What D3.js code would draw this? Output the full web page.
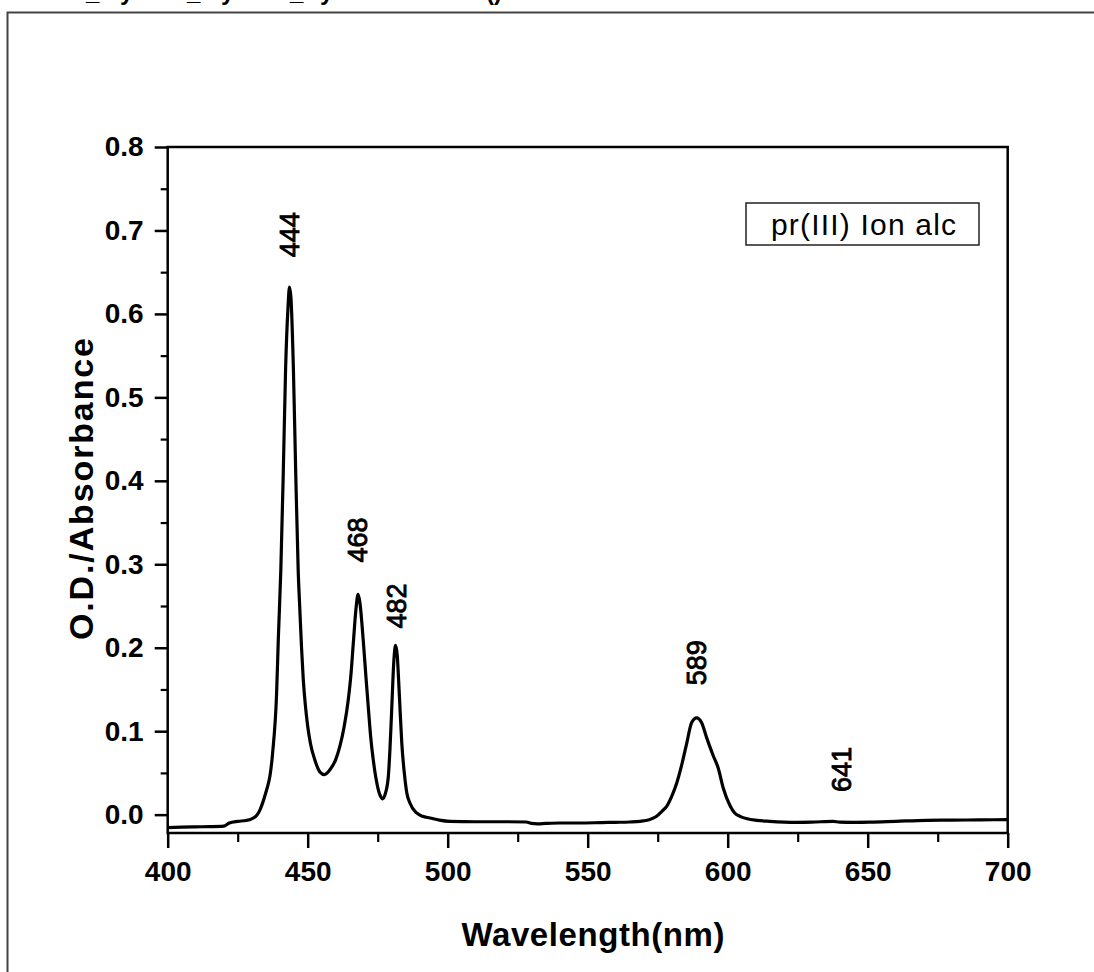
<!DOCTYPE html>
<html>
<head>
<meta charset="utf-8">
<script src="https://cdn.jsdelivr.net/npm/d3@7"></script>
<style>
body { margin: 0; background: #fff; }
svg { display: block; font-family: "Liberation Sans", Arial, sans-serif; }
</style>
</head>
<body>
<script>
var w = 1094;
var h = 972;

// spectrum
var wavelength = [400,405,410,415,420,422,425,428,430,432,433,434,435,436,436.5,437.5,438.9,439.5,440.4,441.3,442.1,443,443.5,444,444.9,445.7,446.6,447.2,447.8,448.4,449.2,450,451,452.5,454.4,456,458,460,461.5,463,464.5,465.5,466.3,467.2,468,468.6,469.9,470.8,471.7,472.5,473.4,474.3,475.2,476,476.8,477.8,478.8,479.4,480,480.8,481.4,482,482.4,483,483.6,484.5,485.4,486.5,488.9,491,493.7,497,500.8,510,520,528,530,532,535,540,547,555,560,565,568.7,572,574.6,576.5,578.2,580,581.8,583.6,585.4,587.1,588.9,590.7,592.5,594.9,596.6,598.4,600.8,602.5,604.4,607,610.4,615,624.6,630,637.7,640,645,650.8,660,671,680,690,700];
var absorbance = [-0.0156,-0.015,-0.0146,-0.0144,-0.0138,-0.010,-0.008,-0.007,-0.005,0.000,0.006,0.015,0.026,0.038,0.046,0.075,0.146,0.21,0.293,0.413,0.533,0.61,0.632,0.62,0.533,0.413,0.293,0.245,0.200,0.163,0.130,0.106,0.085,0.066,0.051,0.048,0.054,0.066,0.082,0.105,0.138,0.170,0.206,0.245,0.264,0.255,0.206,0.165,0.126,0.093,0.066,0.045,0.030,0.022,0.019,0.026,0.046,0.080,0.126,0.186,0.203,0.190,0.166,0.125,0.086,0.050,0.026,0.014,0.002,-0.002,-0.004,-0.0065,-0.008,-0.0085,-0.0085,-0.0088,-0.0105,-0.011,-0.0105,-0.010,-0.010,-0.0095,-0.0092,-0.0088,-0.008,-0.006,-0.002,0.004,0.010,0.022,0.038,0.060,0.086,0.110,0.116,0.110,0.092,0.070,0.056,0.032,0.011,0.002,-0.002,-0.005,-0.0068,-0.008,-0.0092,-0.009,-0.008,-0.009,-0.0092,-0.009,-0.008,-0.0068,-0.0066,-0.0063,-0.006];

var peakLabels = ["444","468","482","589","641"];
var peakWl = [443.7, 468, 481.9, 589, 640.8];
var peakLabelY = [0.695, 0.329, 0.25, 0.182, 0.054];

var xTicks = [400,450,500,550,600,650,700];
var xMinor = [425,475,525,575,625,675];
var yTicks = [0.0,0.1,0.2,0.3,0.4,0.5,0.6,0.7,0.8];
var yMinor = [0.05,0.15,0.25,0.35,0.45,0.55,0.65,0.75];

var svg = d3.select("body")
	.append("svg")
	.attr("width", w)
	.attr("height", h);

var pLeft = 167.7, pRight = 1007.7, pTop = 147, pBottom = 833;

var x = d3.scaleLinear().domain([400,700]).range([pLeft,pRight]);
var y = d3.scaleLinear().domain([-0.022,0.8]).range([pBottom,pTop]);

// outer frame and clipped caption at the very top
svg.append("rect")
	.attr("x",7.5).attr("y",12.5)
	.attr("width",1100).attr("height",1000)
	.attr("fill","none").attr("stroke","#444").attr("stroke-width",2);

var cap = svg.append("text")
	.attr("y",0)
	.style("font-size","24px").style("font-weight","bold");
[["_",86],["y",120],["_",187],["y",221],["_",290],["y",320],["()",486]].forEach(function(p){
	cap.append("tspan").attr("x",p[1]).text(p[0]);
});

// minor ticks
svg.append("g")
	.attr("transform","translate(0,"+pBottom+")")
	.call(d3.axisBottom(x).tickValues(xMinor).tickSize(9).tickFormat(""))
	.call(function(g){ g.select(".domain").remove(); })
	.selectAll("line").attr("stroke-width",2.2);
svg.append("g")
	.attr("transform","translate("+pLeft+",0)")
	.call(d3.axisLeft(y).tickValues(yMinor).tickSize(7).tickFormat(""))
	.call(function(g){ g.select(".domain").remove(); })
	.selectAll("line").attr("stroke-width",2.2);

var xAxis = svg.append("g")
	.attr("transform","translate(0,"+pBottom+")")
	.call(d3.axisBottom(x).tickValues(xTicks).tickSize(15).tickSizeOuter(0).tickPadding(13).tickFormat(d3.format("d")));
xAxis.select(".domain").remove();
xAxis.selectAll("line").attr("stroke-width",2.5);
xAxis.selectAll("text")
	.style("font-size","28px").style("font-weight","bold").attr("fill","#000");

var yAxis = svg.append("g")
	.attr("transform","translate("+pLeft+",0)")
	.call(d3.axisLeft(y).tickValues(yTicks).tickSize(13).tickSizeOuter(0).tickPadding(11).tickFormat(d3.format(".1f")));
yAxis.select(".domain").remove();
yAxis.selectAll("line").attr("stroke-width",2.5);
yAxis.selectAll("text")
	.style("font-size","28px").style("font-weight","bold").attr("fill","#000");

// plot box
svg.append("rect")
	.attr("x",pLeft).attr("y",pTop)
	.attr("width",pRight-pLeft).attr("height",pBottom-pTop)
	.attr("fill","none").attr("stroke","#000").attr("stroke-width",2.5);

// spectrum
var pts = wavelength.map(function(d,i){ return [d, absorbance[i]]; });
var line = d3.line()
	.x(function(d){ return x(d[0]); })
	.y(function(d){ return y(d[1]); })
	.curve(d3.curveMonotoneX);
svg.append("path")
	.datum(pts)
	.attr("d",line)
	.attr("fill","none")
	.attr("stroke","#000")
	.attr("stroke-width",3.2)
	.attr("stroke-linejoin","round");

// peak labels
svg.selectAll(".peak")
	.data(peakLabels)
	.enter()
	.append("text")
	.attr("class","peak")
	.attr("transform",function(d,i){
		return "translate("+x(peakWl[i])+","+y(peakLabelY[i])+") rotate(-90)";
	})
	.attr("text-anchor","middle")
	.attr("dominant-baseline","central")
	.style("font-size","27px")
	.attr("fill","#000").attr("stroke","#000").attr("stroke-width",0.9)
	.text(function(d){ return d; });

// legend box
svg.append("rect")
	.attr("x",746).attr("y",203)
	.attr("width",233).attr("height",42)
	.attr("fill","#fff").attr("stroke","#222").attr("stroke-width",1.5);
svg.append("text")
	.attr("x",771).attr("y",235)
	.attr("textLength",185)
	.style("font-size","30px")
	.attr("fill","#000")
	.text("pr(III) Ion alc");

// axis titles
svg.append("text")
	.attr("x",593).attr("y",946)
	.attr("text-anchor","middle")
	.style("font-size","33px").style("font-weight","bold")
	.attr("textLength",263)
	.text("Wavelength(nm)");
svg.append("text")
	.attr("transform","translate(93,489) rotate(-90)")
	.attr("text-anchor","middle")
	.style("font-size","34px").style("font-weight","bold")
	.attr("textLength",302)
	.text("O.D./Absorbance");
</script>
</body>
</html>
